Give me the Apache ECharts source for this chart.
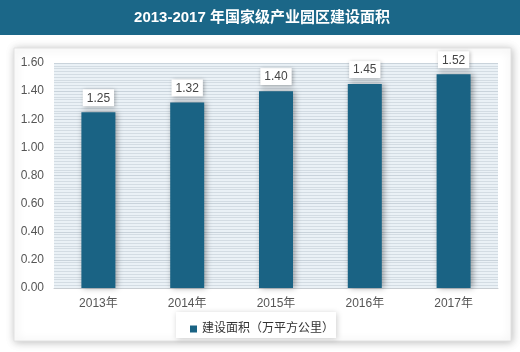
<!DOCTYPE html>
<html>
<head>
<meta charset="utf-8">
<script src="https://cdn.jsdelivr.net/npm/echarts@6/dist/echarts.min.js"></script>
<style>
  html, body { margin: 0; padding: 0; background: #fff; }
  #main { width: 520px; height: 352px; }
</style>
</head>
<body>
<div id="main"></div>
<script>
// 年份
var years = ["2013年", "2014年", "2015年", "2016年", "2017年"];
// 建设面积（万平方公里）
var areaValues = [1.25, 1.32, 1.40, 1.45, 1.52];
var seriesName = "建设面积（万平方公里）";
var titleText = "2013-2017 年国家级产业园区建设面积";

var chart = echarts.init(document.getElementById("main"));
var font = "'Liberation Sans', Arial, 'Noto Sans CJK SC', sans-serif";

chart.setOption({
  animation: false,
  backgroundColor: "#ffffff",
  graphic: [
    // 标题栏
    {
      type: "rect",
      z: -10,
      shape: { x: 0, y: 0, width: 520, height: 35 },
      style: { fill: "#1b6788" }
    },
    {
      type: "text",
      z: 10,
      x: 262,
      y: 18,
      style: {
        text: titleText,
        fill: "#ffffff",
        font: "bold 15px 'Liberation Sans', Arial, 'Noto Sans CJK SC', sans-serif",
        align: "center",
        verticalAlign: "middle"
      }
    },
    // 卡片
    {
      type: "rect",
      z: -10,
      shape: { x: 14, y: 48, width: 497, height: 293 },
      style: {
        fill: "#ffffff",
        stroke: "#e2e2e2",
        lineWidth: 1,
        shadowBlur: 8,
        shadowColor: "rgba(0,0,0,0.25)",
        shadowOffsetX: 1,
        shadowOffsetY: 1
      }
    },
    // 图例框
    {
      type: "rect",
      z: -5,
      shape: { x: 176, y: 312, width: 160, height: 26 },
      style: {
        fill: "#ffffff",
        shadowBlur: 6,
        shadowColor: "rgba(0,0,0,0.2)",
        shadowOffsetX: 1,
        shadowOffsetY: 1
      }
    }
  ],
  legend: {
    data: [seriesName],
    left: 185,
    top: 318,
    itemWidth: 7,
    itemHeight: 7,
    itemGap: 4,
    icon: "rect",
    textStyle: { color: "#333", fontSize: 12, fontFamily: font }
  },
  grid: {
    left: 54,
    right: 22,
    top: 63,
    bottom: 64,
    show: true,
    backgroundColor: "#eaf1f6",
    borderWidth: 0
  },
  xAxis: {
    type: "category",
    data: years,
    axisLine: { show: true, lineStyle: { color: "#c8cdd2" } },
    axisTick: { show: false },
    axisLabel: { color: "#555", fontSize: 12, fontFamily: font, margin: 10 },
    splitLine: { show: false }
  },
  yAxis: {
    type: "value",
    min: 0,
    max: 1.6,
    interval: 0.2,
    axisLine: { show: false },
    axisTick: { show: false },
    axisLabel: {
      color: "#555",
      fontSize: 12,
      fontFamily: font,
      margin: 10,
      formatter: function (v) { return v.toFixed(2); }
    },
    splitLine: { show: true, lineStyle: { color: "#c9d3db", width: 1 } },
    minorTick: { show: false, splitNumber: 10 },
    minorSplitLine: { show: true, lineStyle: { color: "#d3dce3", width: 1 } }
  },
  series: [
    {
      name: seriesName,
      type: "bar",
      data: areaValues,
      barWidth: 34,
      itemStyle: {
        color: "#1a6384",
        shadowBlur: 6,
        shadowColor: "rgba(0,0,0,0.35)",
        shadowOffsetX: 2,
        shadowOffsetY: 0
      },
      label: {
        show: true,
        position: "top",
        distance: 6,
        color: "#444",
        fontSize: 12,
        fontFamily: font,
        backgroundColor: "#ffffff",
        padding: [3, 4, 2, 4],
        shadowBlur: 4,
        shadowColor: "rgba(0,0,0,0.3)",
        shadowOffsetX: 1,
        shadowOffsetY: 1,
        formatter: function (p) { return p.value.toFixed(2); }
      }
    }
  ]
});
</script>
</body>
</html>
